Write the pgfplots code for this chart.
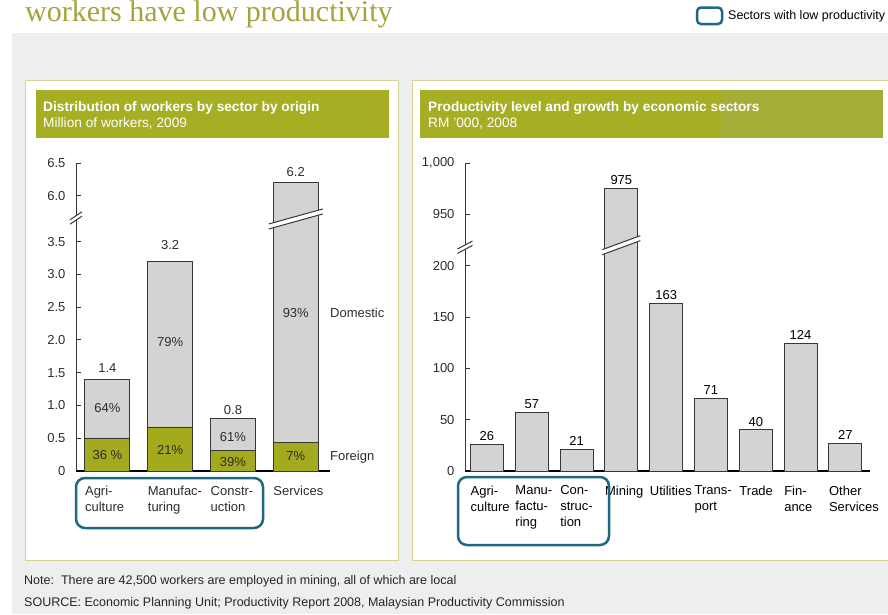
\documentclass[border=0pt]{standalone}
\usepackage{pgfplots}
\pgfplotsset{compat=1.18}
\usepackage{fontspec}
\setmainfont{Liberation Sans}
\newfontfamily\titlefont{Liberation Serif}
\newcommand{\fs}[2]{\fontsize{#1}{#2}\selectfont}
\definecolor{hdrolive}{RGB}{166,174,36}
\definecolor{hdrolive2}{RGB}{164,174,54}
\definecolor{bargreen}{RGB}{164,170,30}
\definecolor{bargray}{RGB}{211,211,211}
\definecolor{barline}{RGB}{55,55,55}
\definecolor{bggray}{RGB}{237,238,238}
\definecolor{panelborder}{RGB}{214,210,150}
\definecolor{myteal}{RGB}{30,104,130}
\definecolor{titleolive}{RGB}{165,163,60}
\definecolor{txtgray}{RGB}{45,45,45}
\tikzset{lbl/.style={font=\fs{13}{15}, text=txtgray, inner sep=0pt}}
\newcommand{\brk}[4]{%
 \fill[white] ([shift={({-#2},{-#3-#4})}]#1) -- ([shift={({#2},{#3-#4})}]#1) -- ([shift={({#2},{#3+#4})}]#1) -- ([shift={({-#2},{-#3+#4})}]#1) -- cycle;
 \draw[barline, line width=1pt] ([shift={({-#2},{-#3-#4})}]#1) -- ([shift={({#2},{#3-#4})}]#1);
 \draw[barline, line width=1pt] ([shift={({-#2},{-#3+#4})}]#1) -- ([shift={({#2},{#3+#4})}]#1);
}
\begin{document}
\begin{tikzpicture}
\begin{scope}[x=1pt,y=-1pt]
\path[use as bounding box] (0,0) rectangle (888,614);
\fill[white] (0,0) rectangle (888,614);
\fill[bggray] (12,33) rectangle (888,614);
\draw[panelborder, fill=white, line width=1pt] (25,80) rectangle (398,560);
\draw[panelborder, fill=white, line width=1pt] (412,80) rectangle (900,560);
\fill[hdrolive] (36,90) rectangle (389,138);
\fill[hdrolive] (420,90) rectangle (883,138);
\fill[hdrolive2] (722,90) rectangle (883,138);
\node[anchor=base west, inner sep=0pt, text=white, font=\fs{13.7}{15}\bfseries] at (43,111) {Distribution of workers by sector by origin};
\node[anchor=base west, inner sep=0pt, text=white, font=\fs{13.7}{15}] at (43,127) {Million of workers, 2009};
\node[anchor=base west, inner sep=0pt, text=white, font=\fs{13.7}{15}\bfseries] at (428,111) {Productivity level and growth by economic sectors};
\node[anchor=base west, inner sep=0pt, text=white, font=\fs{13.7}{15}] at (428,127) {RM '000, 2008};
\node[anchor=base west, inner sep=0pt, text=titleolive, font=\titlefont\fs{30}{30}] at (25,21.5) {workers have low productivity};
\draw[myteal, line width=2.5pt, rounded corners=4pt] (697,7.5) rectangle (722,24);
\node[anchor=base west, inner sep=0pt, text=black, font=\fs{12.5}{14}] at (728,19.5) {Sectors with low productivity};
\node[anchor=base west, inner sep=0pt, text=black!85, font=\fs{12.5}{14}] at (24,584) {Note:\ \ There are 42,500 workers are employed in mining, all of which are local};
\node[anchor=base west, inner sep=0pt, text=black!85, font=\fs{12.5}{14}] at (24,606) {SOURCE: Economic Planning Unit; Productivity Report 2008, Malaysian Productivity Commission};
\end{scope}

\pgfplotsset{
  mybars/.style={
    scale only axis, anchor=south west, clip=false,
    axis x line=bottom, axis y line=left,
    x axis line style={-, line width=2.5pt, draw=black},
    y axis line style={-, line width=1pt, draw=barline},
    tick align=inside, major tick length=4.5pt,
    xtick=data, xtick style={draw=none},
    ytick style={draw=barline, line width=1pt},
    yticklabel style={font=\fs{13}{15}, text=txtgray, xshift=-7pt},
  }
}

\begin{axis}[mybars,
  at={(76pt,-471pt)}, width=254pt, height=308pt,
  xmin=-0.5, xmax=3.545, ymin=0, ymax=4.7,
  ybar stacked, bar width=45pt,
  ytick={0,0.5,1,1.5,2,2.5,3,3.5,4.2,4.7},
  yticklabels={0,0.5,1.0,1.5,2.0,2.5,3.0,3.5,6.0,6.5},
  xticklabels={{Agri-\\culture},{Manufac-\\turing},{Constr-\\uction},{Services}},
  xticklabel style={align=left, anchor=north west, xshift=-22.5pt, inner sep=0pt, yshift=-15pt, font=\fs{13}{16}, text=txtgray},
]
\addplot[fill=bargreen, draw=barline, line width=0.9pt] coordinates {(0,0.504) (1,0.672) (2,0.312) (3,0.434)};
\addplot[fill=bargray, draw=barline, line width=0.9pt] coordinates {(0,0.896) (1,2.528) (2,0.488) (3,3.966)};
\coordinate (t1) at (axis cs:0,1.572);
\coordinate (t2) at (axis cs:1,3.449);
\coordinate (t3) at (axis cs:2,0.931);
\coordinate (t4) at (axis cs:3,4.563);
\coordinate (d1) at (axis cs:0,0.961);
\coordinate (f1) at (axis cs:0,0.244);
\coordinate (d2) at (axis cs:1,1.969);
\coordinate (f2) at (axis cs:1,0.320);
\coordinate (d3) at (axis cs:2,0.519);
\coordinate (f3) at (axis cs:2,0.137);
\coordinate (d4) at (axis cs:3,2.411);
\coordinate (f4) at (axis cs:3,0.229);
\coordinate (dom) at (axis cs:3.545,2.411);
\coordinate (for) at (axis cs:3.545,0.214);
\coordinate (lbrk) at (axis cs:-0.5,3.861);
\coordinate (sbrk) at (axis cs:3,3.846);
\end{axis}

\begin{axis}[mybars,
  at={(465pt,-471pt)}, width=405pt, height=308pt,
  xmin=-0.49, xmax=8.55, ymin=0, ymax=300,
  ybar, bar width=33pt,
  ytick={0,50,100,150,200,250,300},
  yticklabels={0,50,100,150,200,950,{1,000}},
  xticklabels={{Agri-\\culture},{Manu-\\factu-\\ring},{Con-\\struc-\\tion},{Mining},{Utilities},{Trans-\\port},{Trade},{Fin-\\ance},{Other\\Services}},
  xticklabel style={align=left, anchor=north west, xshift=-16.5pt, inner sep=0pt, yshift=-10pt, font=\fs{13}{16}, text=black},
  nodes near coords, point meta=explicit symbolic,
  nodes near coords style={font=\fs{13}{15}, text=black},
]
\addplot[fill=bargray, draw=barline, line width=0.9pt] table[x=x, y=y, meta=lab] {
x y lab
0 26 26
1 57 57
2 21 21
3 275 975
4 163 163
5 71 71
6 40 40
7 124 124
8 27 27
};
\coordinate (rbrk) at (axis cs:-0.49,218);
\coordinate (mbrk) at (axis cs:3,220);
\end{axis}

\node[lbl] at (t1) {1.4};
\node[lbl] at (t2) {3.2};
\node[lbl] at (t3) {0.8};
\node[lbl] at (t4) {6.2};
\node[lbl] at (d1) {64\%};
\node[lbl] at (f1) {36 \%};
\node[lbl] at (d2) {79\%};
\node[lbl] at (f2) {21\%};
\node[lbl] at (d3) {61\%};
\node[lbl] at (f3) {39\%};
\node[lbl] at (d4) {93\%};
\node[lbl] at (f4) {7\%};
\node[lbl, anchor=west] at (dom) {Domestic};
\node[lbl, anchor=west] at (for) {Foreign};

\brk{lbrk}{6pt}{4pt}{2.2pt}
\brk{sbrk}{27pt}{7.5pt}{2.5pt}
\brk{rbrk}{7.5pt}{4pt}{2.2pt}
\brk{mbrk}{19pt}{7pt}{2.5pt}

\begin{scope}[x=1pt,y=-1pt]
\draw[myteal, line width=2.5pt, rounded corners=9pt] (76,478) rectangle (263,528);
\draw[myteal, line width=2.5pt, rounded corners=9pt] (458,477) rectangle (609,545);
\end{scope}
\end{tikzpicture}
\end{document}
